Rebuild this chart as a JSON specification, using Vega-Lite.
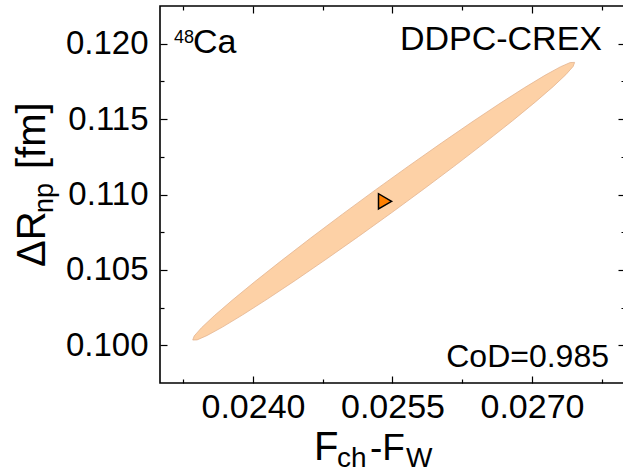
{
  "$schema": "https://vega.github.io/schema/vega-lite/v6.json",
  "width": 465,
  "height": 377,
  "autosize": {"type": "none"},
  "padding": {"left": 160, "top": 6, "right": -2, "bottom": 89},
  "background": "white",
  "config": {
    "view": {"stroke": "black", "strokeWidth": 1.6},
    "font": "Liberation Sans",
    "text": {"font": "Liberation Sans", "color": "black"}
  },
  "datasets": {
    "ellipse": [
      {"i": 0, "fdiff": 0.027458, "drnp": 0.118760},
      {"i": 1, "fdiff": 0.027442, "drnp": 0.118490},
      {"i": 2, "fdiff": 0.027364, "drnp": 0.117948},
      {"i": 3, "fdiff": 0.027227, "drnp": 0.117152},
      {"i": 4, "fdiff": 0.027034, "drnp": 0.116124},
      {"i": 5, "fdiff": 0.026792, "drnp": 0.114897},
      {"i": 6, "fdiff": 0.026507, "drnp": 0.113507},
      {"i": 7, "fdiff": 0.026190, "drnp": 0.111998},
      {"i": 8, "fdiff": 0.025848, "drnp": 0.110414},
      {"i": 9, "fdiff": 0.025493, "drnp": 0.108804},
      {"i": 10, "fdiff": 0.025135, "drnp": 0.107217},
      {"i": 11, "fdiff": 0.024785, "drnp": 0.105701},
      {"i": 12, "fdiff": 0.024455, "drnp": 0.104302},
      {"i": 13, "fdiff": 0.024153, "drnp": 0.103063},
      {"i": 14, "fdiff": 0.023889, "drnp": 0.102021},
      {"i": 15, "fdiff": 0.023671, "drnp": 0.101207},
      {"i": 16, "fdiff": 0.023506, "drnp": 0.100648},
      {"i": 17, "fdiff": 0.023399, "drnp": 0.100359},
      {"i": 18, "fdiff": 0.023352, "drnp": 0.100350},
      {"i": 19, "fdiff": 0.023368, "drnp": 0.100620},
      {"i": 20, "fdiff": 0.023446, "drnp": 0.101162},
      {"i": 21, "fdiff": 0.023583, "drnp": 0.101959},
      {"i": 22, "fdiff": 0.023776, "drnp": 0.102986},
      {"i": 23, "fdiff": 0.024018, "drnp": 0.104213},
      {"i": 24, "fdiff": 0.024303, "drnp": 0.105603},
      {"i": 25, "fdiff": 0.024620, "drnp": 0.107112},
      {"i": 26, "fdiff": 0.024962, "drnp": 0.108696},
      {"i": 27, "fdiff": 0.025317, "drnp": 0.110306},
      {"i": 28, "fdiff": 0.025675, "drnp": 0.111893},
      {"i": 29, "fdiff": 0.026025, "drnp": 0.113409},
      {"i": 30, "fdiff": 0.026355, "drnp": 0.114808},
      {"i": 31, "fdiff": 0.026657, "drnp": 0.116048},
      {"i": 32, "fdiff": 0.026921, "drnp": 0.117089},
      {"i": 33, "fdiff": 0.027139, "drnp": 0.117903},
      {"i": 34, "fdiff": 0.027304, "drnp": 0.118462},
      {"i": 35, "fdiff": 0.027411, "drnp": 0.118751}
    ],
    "center": [{"fdiff": 0.02542, "drnp": 0.10955}]
  },
  "resolve": {"axis": {"x": "independent", "y": "independent"}},
  "layer": [
    {
      "data": {"name": "ellipse"},
      "mark": {"type": "line", "interpolate": "linear-closed", "fill": "#FDD1A6", "stroke": "#E3B48F", "strokeWidth": 0.8, "clip": true},
      "encoding": {
        "x": {
          "field": "fdiff", "type": "quantitative",
          "scale": {"domain": [0.023, 0.028], "nice": false, "zero": false},
          "axis": {
            "orient": "bottom", "title": null, "domain": false, "grid": false,
            "values": [0.02325, 0.024, 0.02475, 0.0255, 0.02625, 0.027, 0.02775],
            "labelExpr": "abs(datum.value*2000/3 - round(datum.value*2000/3)) < 0.01 ? format(datum.value, '.4f') : ''",
            "tickSize": {"condition": {"test": "abs(datum.value*2000/3 - round(datum.value*2000/3)) < 0.01", "value": -7}, "value": -4},
            "tickColor": "black", "tickWidth": 1.2,
            "labelFont": "Liberation Sans", "labelFontSize": 34, "labelColor": "black",
            "labelPadding": 14, "labelFlush": false, "labelOverlap": false
          }
        },
        "y": {
          "field": "drnp", "type": "quantitative",
          "scale": {"domain": [0.0975, 0.1225], "nice": false, "zero": false},
          "axis": {
            "orient": "left", "title": null, "domain": false, "grid": false,
            "values": [0.1, 0.1025, 0.105, 0.1075, 0.11, 0.1125, 0.115, 0.1175, 0.12],
            "labelExpr": "abs(datum.value*200 - round(datum.value*200)) < 0.01 ? format(datum.value, '.3f') : ''",
            "tickSize": {"condition": {"test": "abs(datum.value*200 - round(datum.value*200)) < 0.01", "value": -7}, "value": -4},
            "tickColor": "black", "tickWidth": 1.2,
            "labelFont": "Liberation Sans", "labelFontSize": 33, "labelColor": "black",
            "labelPadding": 19, "labelFlush": false, "labelOverlap": false
          }
        },
        "order": {"field": "i", "type": "quantitative"}
      }
    },
    {
      "data": {"name": "center"},
      "mark": {"type": "point", "shape": "triangle-right", "size": 230, "filled": true, "fill": "#FF8000", "stroke": "black", "strokeWidth": 1.5, "opacity": 1},
      "encoding": {
        "x": {
          "field": "fdiff", "type": "quantitative",
          "axis": {
            "orient": "top", "title": null, "domain": false, "grid": false, "labels": false,
            "values": [0.02325, 0.024, 0.02475, 0.0255, 0.02625, 0.027, 0.02775],
            "tickSize": {"condition": {"test": "abs(datum.value*2000/3 - round(datum.value*2000/3)) < 0.01", "value": -7}, "value": -4},
            "tickColor": "black", "tickWidth": 1.2
          }
        },
        "y": {
          "field": "drnp", "type": "quantitative",
          "axis": {
            "orient": "right", "title": null, "domain": false, "grid": false, "labels": false,
            "values": [0.1, 0.1025, 0.105, 0.1075, 0.11, 0.1125, 0.115, 0.1175, 0.12],
            "tickSize": {"condition": {"test": "abs(datum.value*200 - round(datum.value*200)) < 0.01", "value": -7}, "value": -4},
            "tickColor": "black", "tickWidth": 1.2
          }
        }
      }
    },
    {
      "data": {"values": [{"t": "48"}]},
      "mark": {"type": "text", "align": "left", "baseline": "alphabetic", "fontSize": 18, "dx": 14, "dy": 37},
      "encoding": {"x": {"datum": 0.023, "axis": null}, "y": {"datum": 0.1225, "axis": null}, "text": {"field": "t"}}
    },
    {
      "data": {"values": [{"t": "Ca"}]},
      "mark": {"type": "text", "align": "left", "baseline": "alphabetic", "fontSize": 34, "dx": 33, "dy": 47},
      "encoding": {"x": {"datum": 0.023, "axis": null}, "y": {"datum": 0.1225, "axis": null}, "text": {"field": "t"}}
    },
    {
      "data": {"values": [{"t": "DDPC-CREX"}]},
      "mark": {"type": "text", "align": "right", "baseline": "alphabetic", "fontSize": 34, "dx": -23, "dy": 44},
      "encoding": {"x": {"datum": 0.028, "axis": null}, "y": {"datum": 0.1225, "axis": null}, "text": {"field": "t"}}
    },
    {
      "data": {"values": [{"t": "CoD=0.985"}]},
      "mark": {"type": "text", "align": "right", "baseline": "alphabetic", "fontSize": 32, "dx": -16, "dy": -16},
      "encoding": {"x": {"datum": 0.028, "axis": null}, "y": {"datum": 0.0975, "axis": null}, "text": {"field": "t"}}
    },
    {
      "data": {"values": [{"t": "F"}]},
      "mark": {"type": "text", "align": "left", "baseline": "alphabetic", "fontSize": 40, "dx": 154, "dy": 77},
      "encoding": {"x": {"datum": 0.023, "axis": null}, "y": {"datum": 0.0975, "axis": null}, "text": {"field": "t"}}
    },
    {
      "data": {"values": [{"t": "ch"}]},
      "mark": {"type": "text", "align": "left", "baseline": "alphabetic", "fontSize": 28, "dx": 177, "dy": 84},
      "encoding": {"x": {"datum": 0.023, "axis": null}, "y": {"datum": 0.0975, "axis": null}, "text": {"field": "t"}}
    },
    {
      "data": {"values": [{"t": "-F"}]},
      "mark": {"type": "text", "align": "left", "baseline": "alphabetic", "fontSize": 37, "dx": 210, "dy": 77},
      "encoding": {"x": {"datum": 0.023, "axis": null}, "y": {"datum": 0.0975, "axis": null}, "text": {"field": "t"}}
    },
    {
      "data": {"values": [{"t": "W"}]},
      "mark": {"type": "text", "align": "left", "baseline": "alphabetic", "fontSize": 28, "dx": 246, "dy": 84},
      "encoding": {"x": {"datum": 0.023, "axis": null}, "y": {"datum": 0.0975, "axis": null}, "text": {"field": "t"}}
    },
    {
      "data": {"values": [{"t": "ΔR"}]},
      "mark": {"type": "text", "align": "left", "baseline": "alphabetic", "angle": 270, "fontSize": 40, "dx": 116, "dy": -115},
      "encoding": {"x": {"datum": 0.023, "axis": null}, "y": {"datum": 0.0975, "axis": null}, "text": {"field": "t"}}
    },
    {
      "data": {"values": [{"t": "np"}]},
      "mark": {"type": "text", "align": "left", "baseline": "alphabetic", "angle": 270, "fontSize": 27, "dx": 170, "dy": -107},
      "encoding": {"x": {"datum": 0.023, "axis": null}, "y": {"datum": 0.0975, "axis": null}, "text": {"field": "t"}}
    },
    {
      "data": {"values": [{"t": "[fm]"}]},
      "mark": {"type": "text", "align": "left", "baseline": "alphabetic", "angle": 270, "fontSize": 40, "dx": 214, "dy": -115},
      "encoding": {"x": {"datum": 0.023, "axis": null}, "y": {"datum": 0.0975, "axis": null}, "text": {"field": "t"}}
    }
  ]
}
